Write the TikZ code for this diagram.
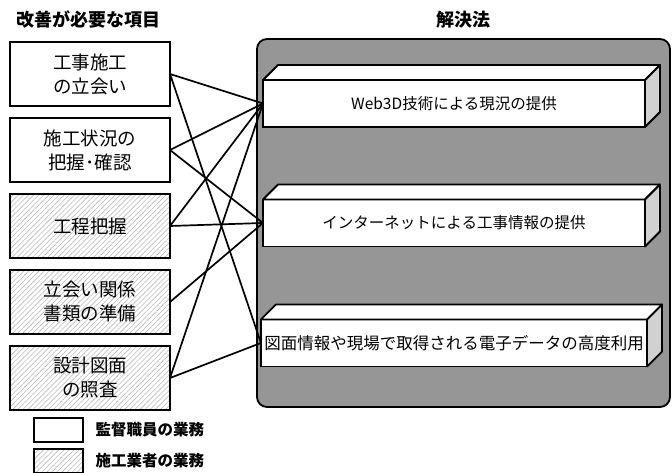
\documentclass[tikz,border=0pt]{standalone}
\usepackage{fontspec}
\setmainfont{Noto Sans CJK JP}
\usetikzlibrary{positioning,patterns.meta,calc}

\tikzset{
  item/.style={draw,line width=1.8pt,outer sep=0pt,minimum width=160pt,minimum height=64pt,
    align=center,font=\fontsize{18.5}{24}\selectfont},
  kantoku/.style={item,fill=white},
  hatch/.style={pattern={Lines[angle=45,distance=3.6pt,line width=0.6pt]},pattern color=black!28},
  sekou/.style={item,hatch},
  panel/.style={draw,line width=1.8pt,fill=black!41,rounded corners=10pt,minimum width=413pt,minimum height=368pt},
  solfront/.style={draw,line width=1.8pt,outer sep=0pt,fill=white,minimum width=382pt,minimum height=47pt,
    font=\fontsize{15.5}{18}\selectfont},
  facetop/.style={draw,line width=1.8pt,fill=white,line join=round},
  faceside/.style={draw,line width=1.8pt,fill=black!18,line join=round},
  link/.style={line width=1.7pt},
  heading/.style={font=\fontsize{18}{20}\selectfont\bfseries},
  keybox/.style={draw,line width=1.8pt,minimum width=49pt,minimum height=24pt},
  keytext/.style={anchor=west,font=\fontsize{15.5}{18}\selectfont\bfseries},
}

% top and right faces of a solution box
\newcommand\depthfaces[1]{%
  \filldraw[facetop] (#1.north west) -- ++(15,15) -- ($(#1.north east)+(15,15)$) -- (#1.north east) -- cycle;
  \filldraw[faceside] (#1.north east) -- ++(15,15) -- ($(#1.south east)+(15,15)$) -- (#1.south east) -- cycle;}

\begin{document}
\begin{tikzpicture}[x=1pt,y=1pt]
\useasboundingbox (0,0) rectangle (672,473);

% headings
\node[heading,anchor=west] (lhead) at (13,453) {改善が必要な項目};
\node[heading] (rhead) at (463,453) {解決法};

% items to improve
\node[kantoku] (koji) at (90,399) {工事施工\\の立会い};
\node[kantoku,below=12pt of koji] (jokyo) {施工状況の\\把握･確認};
\node[sekou,below=12pt of jokyo] (koutei) {工程把握};
\node[sekou,below=12pt of koutei] (tachiai) {立会い関係\\書類の準備};
\node[sekou,below=12pt of tachiai] (zumen) {設計図面\\の照査};

% solutions
\node[panel] (panel) at (463.5,250) {};
\node[solfront] (web) at (454,369.5) {Web3D技術による現況の提供};
\node[solfront] (inet) at (454,250) {インターネットによる工事情報の提供};
\node[solfront,font=\fontsize{16.5}{18}\selectfont] (denshi) at (454,130) {図面情報や現場で取得される電子データの高度利用};
\depthfaces{web}
\depthfaces{inet}
\depthfaces{denshi}

% links
\foreach \a/\b in {koji/web,koji/denshi,jokyo/web,jokyo/inet,koutei/web,koutei/inet,
                   tachiai/inet,zumen/web,zumen/denshi}
  \draw[link] (\a.east) -- (\b.west);

% legend
\node[keybox,fill=white] (keyk) at (58.5,43) {};
\node[keybox,hatch] (keys) at (58.5,12) {};
\node[keytext] (keyktext) at (92,43) {監督職員の業務};
\node[keytext] (keystext) at (92,12) {施工業者の業務};
\end{tikzpicture}
\end{document}
